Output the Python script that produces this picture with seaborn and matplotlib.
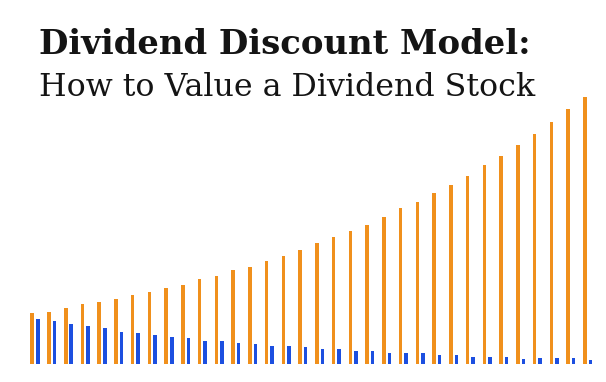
import numpy as np
import pandas as pd
import matplotlib
matplotlib.use("Agg")
import matplotlib.pyplot as plt
import seaborn as sb

# Projected dividend per year (orange) and its discounted present value (blue)
years = list(range(1, 35))
dividend = [50.7, 52.3, 56.3, 59.7, 61.7, 65.0, 69.0, 72.3, 76.3, 79.0,
            85.0, 88.3, 94.0, 97.3, 103.0, 108.3, 114.0, 120.7, 126.7, 133.3,
            139.0, 146.7, 155.7, 162.3, 171.3, 179.0, 188.0, 199.0, 208.0, 219.0,
            229.7, 242.3, 254.7, 267.3]
present_value = [45.3, 43.3, 39.7, 38.0, 36.3, 32.3, 30.7, 29.0, 27.3, 25.7,
                 23.3, 23.3, 21.3, 20.0, 18.3, 18.3, 16.7, 14.7, 14.7, 12.7,
                 12.7, 10.7, 10.7, 10.7, 9.0, 9.0, 7.3, 7.3, 7.3, 5.0,
                 5.7, 5.7, 5.7, 4.0]

df = pd.DataFrame({
    "year": years * 2,
    "value": dividend + present_value,
    "series": ["Dividend"] * len(years) + ["Present value"] * len(years),
})

sb.set_style("white")
fig = plt.figure(figsize=(6.06, 3.82), dpi=100)
ax = fig.add_axes([0, 0, 1, 1])

sb.barplot(data=df, x="year", y="value", hue="series",
           palette={"Dividend": "#F0901C", "Present value": "#1C4FE0"},
           width=0.66, gap=0.35, legend=False, ax=ax, linewidth=0, saturation=1)

ax.set_xlim(-2.09, 34.1)
ax.set_ylim(-18, 364)
ax.axis("off")

fig.text(0.064, 0.858, "Dividend Discount Model:", family="DejaVu Serif",
         fontweight="bold", fontsize=24.4, color="#141414")
fig.text(0.064, 0.748, "How to Value a Dividend Stock", family="DejaVu Serif",
         fontsize=22.8, color="#141414")

fig.savefig("out.png", dpi=100)
